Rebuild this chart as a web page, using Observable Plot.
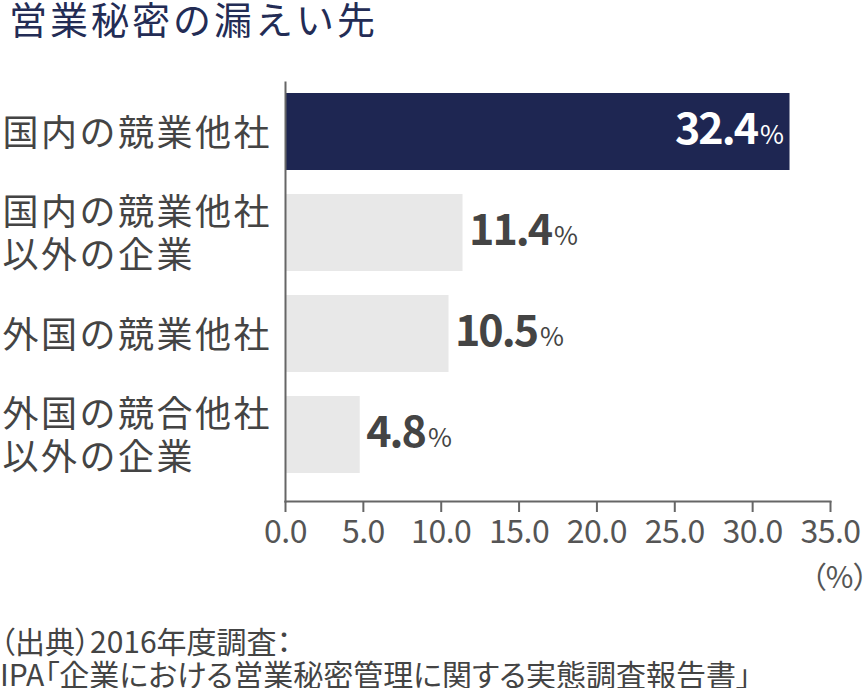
<!DOCTYPE html>
<html><head><meta charset="utf-8">
<script src="https://cdn.jsdelivr.net/npm/d3@7"></script>
<script src="https://cdn.jsdelivr.net/npm/@observablehq/plot@0.6"></script>
<style>
body{margin:0;background:#fff;font-family:"Noto Sans CJK JP",sans-serif;width:867px;height:688px;overflow:hidden;}
#title{height:50px;line-height:36px;font-size:38px;letter-spacing:3px;color:#232c55;padding-left:9px;white-space:nowrap;}
#caption{margin-top:14px;font-size:30px;line-height:33px;color:#444;font-feature-settings:"palt";white-space:nowrap;}
#chart svg{display:block;}
</style></head><body>
<div id="title">営業秘密の漏えい先</div>
<div id="chart"></div>
<div id="caption">（出典）2016年度調査：<br>IPA「企業における営業秘密管理に関する実態調査報告書」</div>
<script>
const categories = ["国内の競業他社", "国内の競業他社\n以外の企業", "外国の競業他社", "外国の競合他社\n以外の企業"];
const values = [32.4, 11.4, 10.5, 4.8];
const xTicks = [0, 5, 10, 15, 20, 25, 30, 35];
const unitLabel = "（%）";
const highlighted = [categories[0]];

const data = categories.map((c, i) => ({cat: c, value: values[i]}));
const inside = data.filter(d => highlighted.includes(d.cat));
const outside = data.filter(d => !highlighted.includes(d.cat));

const navy = "#1e2652";
const grey = "#e8e8e8";
const ink = "#444444";

const chart = Plot.plot({
  width: 867,
  height: 560,
  marginLeft: 285,
  marginRight: 37,
  marginTop: 32,
  marginBottom: 109,
  style: {fontFamily: "'Noto Sans CJK JP', sans-serif", background: "#fff"},
  x: {domain: [0, 35], axis: null, label: null},
  y: {domain: categories, axis: null, label: null, paddingInner: 0.235, paddingOuter: 0.172, align: 0.286},
  marks: [
    Plot.barX(data, {y: "cat", x: "value", fill: d => highlighted.includes(d.cat) ? navy : grey}),
    Plot.frame({anchor: "left", stroke: "#666", strokeWidth: 2}),
    Plot.frame({anchor: "bottom", stroke: "#666", strokeWidth: 2}),
    Plot.axisX({ticks: xTicks, tickFormat: d => d.toFixed(1), tickSize: 11, tickPadding: 8, label: null,
      fontSize: 32, stroke: "#666", strokeWidth: 2, fill: "#555"}),
    Plot.text(data, {y: "cat", text: "cat", frameAnchor: "left", textAnchor: "start", dx: -283,
      fontSize: 36, lineHeight: 1.2, fill: ink}),
    Plot.text(inside, {y: "cat", x: "value", text: d => d.value.toFixed(1), textAnchor: "end", dx: -6,
      fontSize: 43, fontWeight: "bold", fill: "#fff", dy: -2}),
    Plot.text(outside, {y: "cat", x: "value", text: d => d.value.toFixed(1), textAnchor: "start", dx: 6,
      fontSize: 43, fontWeight: "bold", fill: ink, dy: -2}),
    Plot.text([unitLabel], {frameAnchor: "bottom-right", textAnchor: "end", dx: 38, dy: 86,
      fontSize: 30, fill: "#555"})
  ]
});

document.getElementById("chart").appendChild(chart);

const groups = (fs) => Array.from(chart.querySelectorAll(`g[font-size="${fs}"]`));
// letter spacing for category labels
groups(36).forEach(g => g.setAttribute("letter-spacing", "2.5"));
groups(32).forEach(g => g.setAttribute("letter-spacing", "-0.5"));
groups(30).forEach(g => g.setAttribute("style", "font-feature-settings:'palt'"));
// value labels: append smaller "%" tspan
groups(43).forEach(g => {
  g.setAttribute("letter-spacing", "-2");
  g.querySelectorAll("text").forEach(t => {
    const ts = document.createElementNS("http://www.w3.org/2000/svg", "tspan");
    ts.textContent = "%";
    ts.setAttribute("font-size", "26");
    ts.setAttribute("font-weight", "normal");
    ts.setAttribute("letter-spacing", "0");
    ts.setAttribute("dx", "3");
    t.appendChild(ts);
  });
});
</script>
</body></html>
